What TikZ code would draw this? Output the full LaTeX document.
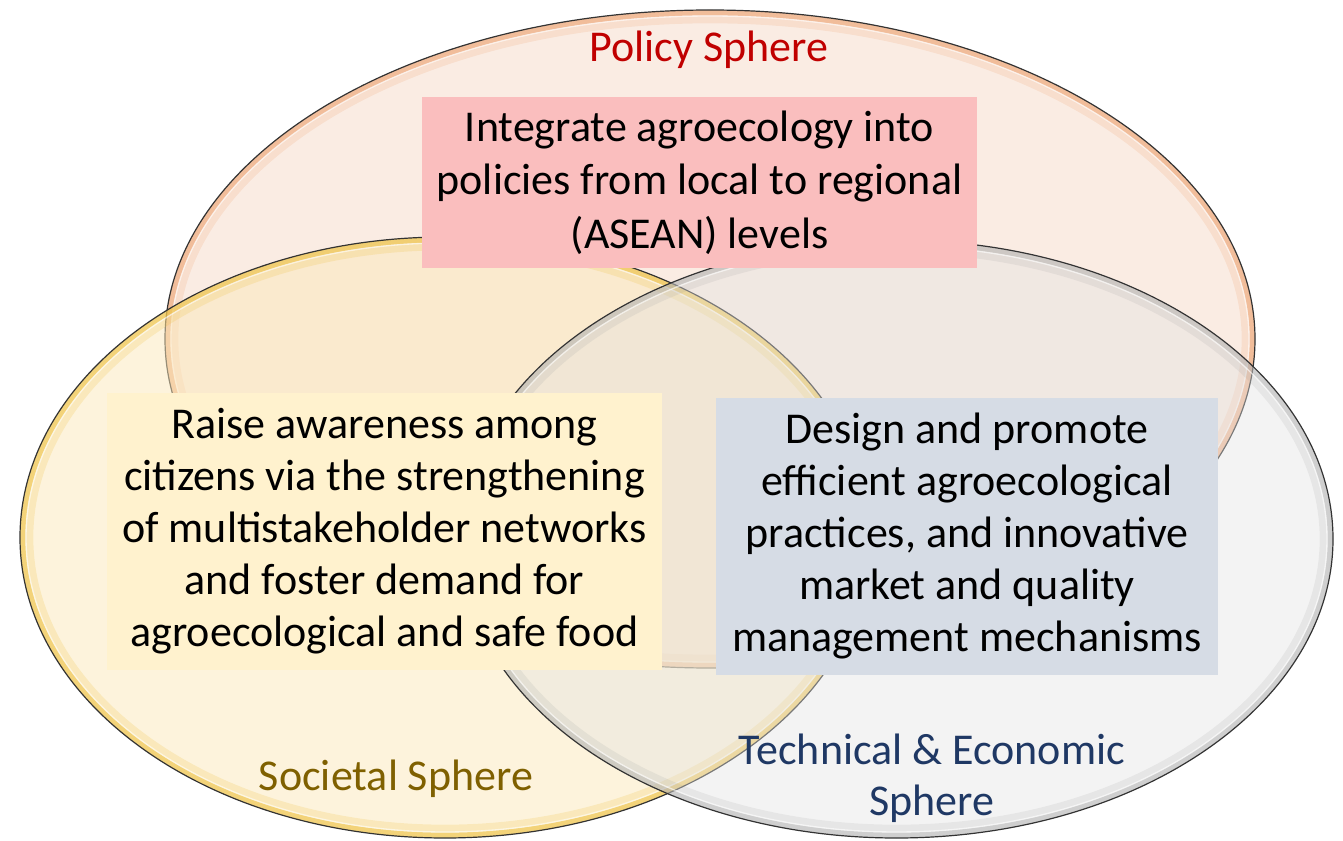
\documentclass[tikz,border=0pt]{standalone}
\usepackage{fontspec}
\setmainfont{Carlito}
\begin{document}
\begin{tikzpicture}[x=0.75pt,y=-0.75pt,
  rimline/.style={draw=black!80, line width=0.9pt},
  boxtext/.style={inner sep=0pt, align=center, font=\fontsize{33}{39}\selectfont, text=black},
  lbl/.style={inner sep=0pt, align=center, font=\fontsize{33}{38}\selectfont}]
\definecolor{polfill}{RGB}{246,218,200}
\definecolor{polrim}{RGB}{232,140,80}
\definecolor{socfill}{RGB}{251,232,186}
\definecolor{socrim}{RGB}{235,185,40}
\definecolor{tecfill}{RGB}{226,226,226}
\definecolor{tecrim}{RGB}{150,150,150}
\definecolor{pinkbox}{RGB}{250,190,190}
\definecolor{yelbox}{RGB}{255,242,206}
\definecolor{bluebox}{RGB}{214,220,229}
\definecolor{polred}{RGB}{192,0,0}
\definecolor{socolive}{RGB}{127,96,0}
\definecolor{tecblue}{RGB}{31,56,100}
\useasboundingbox (0,0) rectangle (1343,841);
% Policy sphere
\fill[polfill, fill opacity=0.5] (710,339) ellipse [x radius=545, y radius=329];
\begin{scope}
\clip (710,339) ellipse [x radius=545, y radius=329];
\draw[polrim, line width=20pt, opacity=0.15] (710,339) ellipse [x radius=545, y radius=329];
\draw[polrim, line width=8pt, opacity=0.4] (710,339) ellipse [x radius=545, y radius=329];
\draw[white, line width=1pt, opacity=0.6] (710,339) ellipse [x radius=539, y radius=323];
\end{scope}
\draw[rimline] (710,339) ellipse [x radius=545, y radius=329];
% Societal sphere
\fill[socfill, fill opacity=0.5] (445,537.5) ellipse [x radius=425, y radius=300.5];
\begin{scope}
\clip (445,537.5) ellipse [x radius=425, y radius=300.5];
\draw[socrim, line width=20pt, opacity=0.18] (445,537.5) ellipse [x radius=425, y radius=300.5];
\draw[socrim, line width=8pt, opacity=0.45] (445,537.5) ellipse [x radius=425, y radius=300.5];
\draw[white, line width=1pt, opacity=0.6] (445,537.5) ellipse [x radius=419, y radius=294.5];
\end{scope}
\draw[rimline] (445,537.5) ellipse [x radius=425, y radius=300.5];
% Technical sphere
\fill[tecfill, fill opacity=0.4] (896.5,539) ellipse [x radius=436.5, y radius=299];
\begin{scope}
\clip (896.5,539) ellipse [x radius=436.5, y radius=299];
\draw[tecrim, line width=20pt, opacity=0.14] (896.5,539) ellipse [x radius=436.5, y radius=299];
\draw[tecrim, line width=8pt, opacity=0.28] (896.5,539) ellipse [x radius=436.5, y radius=299];
\draw[white, line width=1pt, opacity=0.6] (896.5,539) ellipse [x radius=430.5, y radius=293];
\end{scope}
\draw[rimline] (896.5,539) ellipse [x radius=436.5, y radius=299];
% Boxes
\node[fill=pinkbox, minimum width=555*0.75pt, minimum height=171*0.75pt, inner sep=0pt] (pbox) at (699.5,182.5) {};
\node[boxtext, font=\fontsize{33}{40}\selectfont] (ptext) at (pbox.center) {Integrate agroecology into\\policies from local to regional\\(ASEAN) levels};
\node[fill=yelbox, minimum width=555*0.75pt, minimum height=277*0.75pt, inner sep=0pt] (sbox) at (384.5,531.5) {};
\node[boxtext] (stext) at (sbox.center) {Raise awareness among\\citizens via the strengthening\\of multistakeholder networks\\and foster demand for\\agroecological and safe food};
\node[fill=bluebox, minimum width=502*0.75pt, minimum height=277*0.75pt, inner sep=0pt] (tbox) at (967,536.5) {};
\node[boxtext] (ttext) at (tbox.center) {Design and promote\\efficient agroecological\\practices, and innovative\\market and quality\\management mechanisms};
% Labels
\node[lbl, text=polred] (plbl) at (709,50) {Policy Sphere};
\node[lbl, text=socolive] (slbl) at (396,779) {Societal Sphere};
\node[lbl, text=tecblue] (tlbl) at (932,778) {Technical \& Economic\\Sphere};
\end{tikzpicture}
\end{document}
